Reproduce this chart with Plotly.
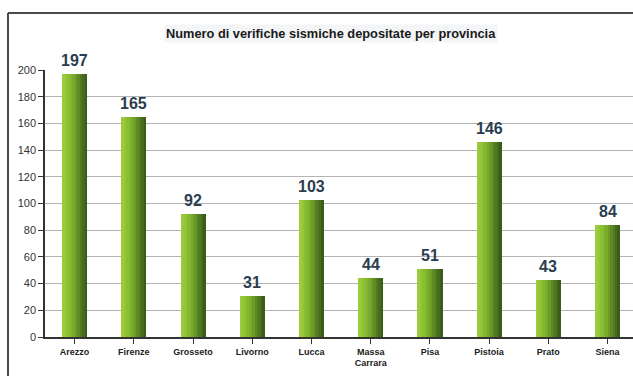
import plotly.graph_objects as go

province = ["Arezzo", "Firenze", "Grosseto", "Livorno", "Lucca", "Massa<br>Carrara",
            "Pisa", "Pistoia", "Prato", "Siena"]
verifiche = [197, 165, 92, 31, 103, 44, 51, 146, 43, 84]
y_ticks = [0, 20, 40, 60, 80, 100, 120, 140, 160, 180, 200]
title_text = "Numero di verifiche sismiche depositate per provincia"

# gradient stripes across each bar (light left -> dark right)
stripe_colors = ["#9ccc3c", "#94c638", "#8bbf33", "#82b62f", "#78aa2b",
                 "#6c9b27", "#5f8a23", "#527a20", "#466b1d", "#3b5d1a"]
bar_width = 0.42
n = len(stripe_colors)
sw = bar_width / n

fig = go.Figure()
for i, c in enumerate(stripe_colors):
    fig.add_trace(go.Bar(
        x=list(range(len(province))), y=verifiche,
        width=sw * 1.08, offset=-bar_width / 2 + i * sw,
        marker=dict(color=c, line=dict(width=0)),
        hoverinfo="skip", showlegend=False,
    ))

annotations = [dict(
    text="<b>" + title_text + "</b>", x=0.487, xref="paper",
    y=(337 - 33) / 267, yref="paper", yanchor="middle", showarrow=False,
    font=dict(size=12.8, color="#1a1a1a"), bgcolor="#f3f5f7",
)]
# value labels
for i, v in enumerate(verifiche):
    annotations.append(dict(
        x=i, y=v, xref="x", yref="y", text="<b>%d</b>" % v, showarrow=False,
        yanchor="bottom", yshift=3,
        font=dict(family="Liberation Sans, Arial", size=16, color="#2b3d4f"),
    ))

fig.update_layout(
    width=633, height=376,
    margin=dict(l=45, r=0, t=70, b=39),
    paper_bgcolor="white", plot_bgcolor="white",
    barmode="overlay", bargap=0,
    font=dict(family="Liberation Sans, Arial", color="#222"),
    annotations=annotations,
    shapes=[
        dict(type="line", xref="paper", yref="paper",
             x0=(8 - 45) / 588, x1=1.05, y0=(337 - 13) / 267, y1=(337 - 13) / 267,
             line=dict(color="#4a4a4a", width=2)),
        dict(type="line", xref="paper", yref="paper",
             x0=(8 - 45) / 588, x1=(8 - 45) / 588, y0=(337 - 13) / 267, y1=-0.2,
             line=dict(color="#4a4a4a", width=2)),
    ],
)

fig.update_xaxes(
    range=[-0.5, 9.43], tickmode="array", tickvals=list(range(len(province))),
    ticktext=["<b>" + p + "</b>" for p in province],
    tickfont=dict(size=9, color="#222"),
    showline=True, linecolor="#333", linewidth=1.5,
    ticks="outside", ticklen=5, tickcolor="#333", tickson="boundaries",
    showgrid=False, zeroline=False, fixedrange=True,
)
fig.update_yaxes(
    range=[0, 200], tickmode="array", tickvals=y_ticks,
    tickfont=dict(size=11, color="#333"),
    showline=True, linecolor="#333", linewidth=1.5,
    ticks="outside", ticklen=5, tickcolor="#333",
    showgrid=True, gridcolor="#b4b4b4", gridwidth=1, zeroline=False,
)

fig.write_html("out.html")
